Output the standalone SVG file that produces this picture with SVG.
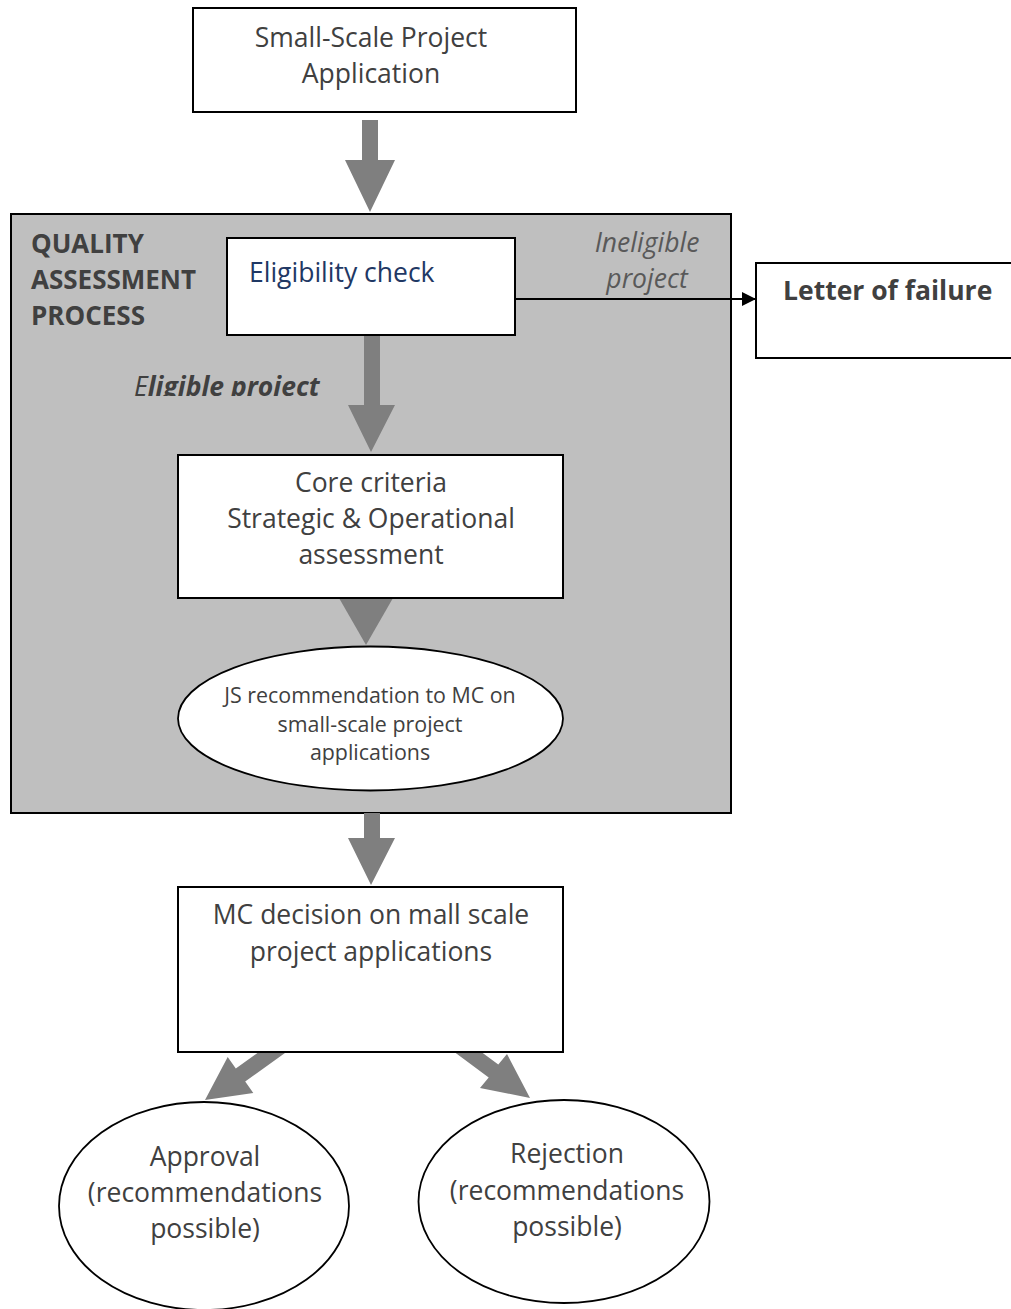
<svg xmlns="http://www.w3.org/2000/svg" width="1011" height="1309" viewBox="0 0 1011 1309">
<style>
.box{fill:#fff;stroke:#000;stroke-width:2}
.ell{fill:#fff;stroke:#000;stroke-width:1.8}
.t{font-family:"Open Sans","Noto Sans","Liberation Sans",sans-serif;font-size:26.5px;fill:#404040}
.c{text-anchor:middle}
.b{font-weight:bold}
.i{font-style:italic}
.lt{fill:#595959}
.big{fill:#7f7f7f}
</style>
<defs>
<marker id="ah" viewBox="0 0 10 10" refX="10" refY="5" markerWidth="17" markerHeight="14" markerUnits="userSpaceOnUse" orient="auto"><path d="M0,0 L10,5 L0,10 z" fill="#000"/></marker>
<clipPath id="clipE"><rect x="0" y="360" width="400" height="36"/></clipPath>
</defs>
<g id="qa-process">
<rect x="11" y="214" width="720" height="599" fill="#bfbfbf" stroke="#000" stroke-width="2"/>
<text class="t b" x="31" style="font-size:26px"><tspan x="31" y="253">QUALITY</tspan><tspan x="31" y="289">ASSESSMENT</tspan><tspan x="31" y="325">PROCESS</tspan></text>
</g>
<g id="connectors">
<polygon class="big" points="362,120 378,120 378,160 395,160 370,212 345,160 362,160"/>
<polygon class="big" points="364,330 380,330 380,405 395,405 371,452 348,405 364,405"/>
<polygon class="big" points="339,598 393,598 366,645"/>
<polygon class="big" points="364,813 380,813 380,838 395,838 371,885 348,838 364,838"/>
<polygon class="big" points="284.6,1033.6 235.8,1068.5 227.7,1057.1 205,1100 253.3,1092.9 245.2,1081.5 294,1046.6"/>
<polygon class="big" points="450.1,1028.9 498.3,1064.6 507,1054 530,1098 480,1088 488.7,1077.4 440.5,1041.7"/>
<line x1="515" y1="299" x2="756" y2="299" stroke="#000" stroke-width="2" marker-end="url(#ah)"/>
<text class="t i c lt"><tspan x="647" y="252">Ineligible</tspan><tspan x="647" y="288">project</tspan></text>
<text class="t i" x="134" y="396" clip-path="url(#clipE)">E<tspan class="b">ligible project</tspan></text>
</g>
<g id="application">
<rect class="box" x="193" y="8" width="383" height="104"/>
<text class="t c"><tspan x="371" y="47">Small-Scale Project</tspan><tspan x="371" y="83">Application</tspan></text>
</g>
<g id="eligibility-check">
<rect class="box" x="227" y="238" width="288" height="97"/>
<text class="t" x="249" y="282" style="fill:#1f3864">Eligibility check</text>
</g>
<g id="letter-of-failure">
<rect class="box" x="756" y="263" width="300" height="95"/>
<text class="t b" x="783" y="300">Letter of failure</text>
</g>
<g id="core-criteria">
<rect class="box" x="178" y="455" width="385" height="143"/>
<text class="t c"><tspan x="371" y="492">Core criteria</tspan><tspan x="371" y="528">Strategic &amp; Operational</tspan><tspan x="371" y="564">assessment</tspan></text>
</g>
<g id="js-recommendation">
<ellipse class="ell" cx="370.5" cy="718.5" rx="192.5" ry="72"/>
<text class="t c" style="font-size:21.4px"><tspan x="370" y="703">JS recommendation to MC on</tspan><tspan x="370" y="732">small-scale project</tspan><tspan x="370" y="760">applications</tspan></text>
</g>
<g id="mc-decision">
<rect class="box" x="178" y="887" width="385" height="165"/>
<text class="t c"><tspan x="371" y="924">MC decision on mall scale</tspan><tspan x="371" y="961">project applications</tspan></text>
</g>
<g id="approval">
<ellipse class="ell" cx="204" cy="1206" rx="145" ry="104"/>
<text class="t c"><tspan x="205" y="1166">Approval</tspan><tspan x="205" y="1202">(recommendations</tspan><tspan x="205" y="1238">possible)</tspan></text>
</g>
<g id="rejection">
<ellipse class="ell" cx="564" cy="1201.5" rx="145.5" ry="101.5"/>
<text class="t c"><tspan x="567" y="1163">Rejection</tspan><tspan x="567" y="1200">(recommendations</tspan><tspan x="567" y="1236">possible)</tspan></text>
</g>
</svg>
